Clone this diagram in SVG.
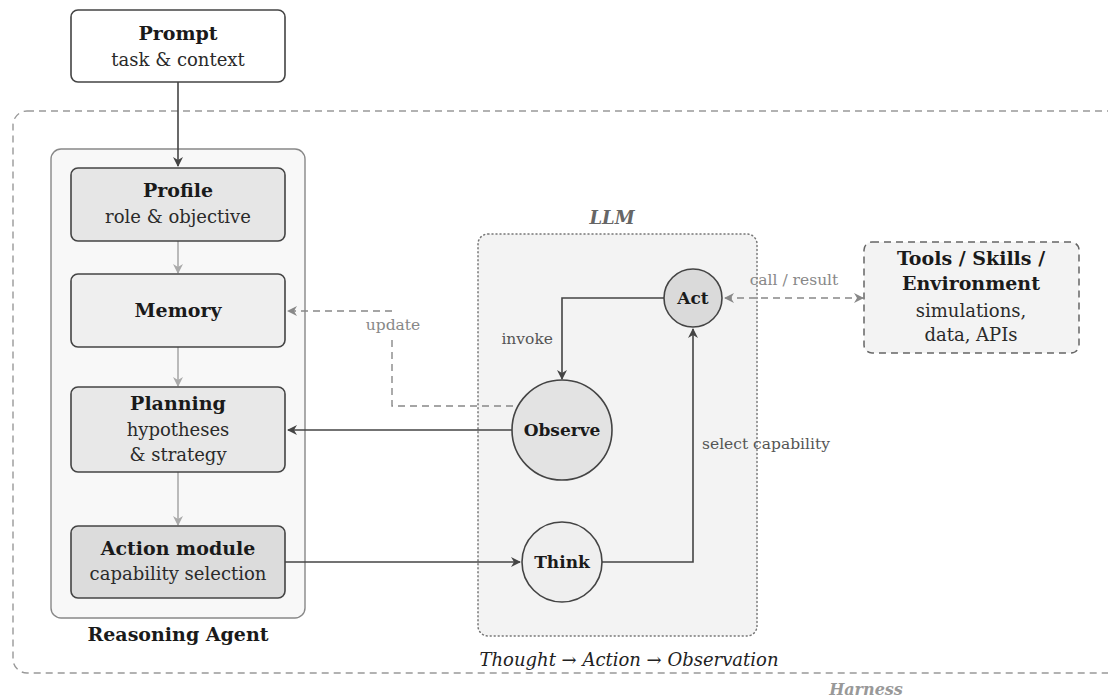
<svg xmlns="http://www.w3.org/2000/svg" width="1108" height="700" viewBox="0 0 1108 700">
  <style>
    text { font-family: "DejaVu Serif", "Liberation Serif", serif; fill: #1a1a1a; }
    .t { font-size: 19px; font-weight: bold; text-anchor: middle; }
    .s { font-size: 18px; text-anchor: middle; fill: #2a2a2a; }
    .c { font-size: 17px; font-weight: bold; text-anchor: middle; }
    .lbl { font-size: 15.5px; fill: #555; }
    .glbl { font-size: 15.5px; fill: #888; }
    .box { stroke: #444; stroke-width: 1.6; }
    .dark { fill: none; stroke: #444; stroke-width: 1.6; }
    .gray { fill: none; stroke: #aaa; stroke-width: 1.6; }
    .gdash { fill: none; stroke: #888; stroke-width: 1.4; stroke-dasharray: 7 5; }
  </style>
  <defs>
    <marker id="ad" viewBox="0 0 10 10" refX="9" refY="5" markerWidth="10" markerHeight="10" markerUnits="userSpaceOnUse" orient="auto-start-reverse">
      <path d="M0,0 L10,5 L0,10 L3,5 Z" fill="#444"/>
    </marker>
    <marker id="ag" viewBox="0 0 10 10" refX="9" refY="5" markerWidth="10" markerHeight="10" markerUnits="userSpaceOnUse" orient="auto-start-reverse">
      <path d="M0,0 L10,5 L0,10 L3,5 Z" fill="#aaa"/>
    </marker>
    <marker id="am" viewBox="0 0 10 10" refX="9" refY="5" markerWidth="10" markerHeight="10" markerUnits="userSpaceOnUse" orient="auto-start-reverse">
      <path d="M0,0 L10,5 L0,10 L3,5 Z" fill="#888"/>
    </marker>
  </defs>

  <rect width="1108" height="700" fill="#ffffff"/>

  <!-- Harness frame -->
  <g id="harness">
    <rect x="13" y="111" width="1120" height="562" rx="14" fill="none" stroke="#999" stroke-width="1.4" stroke-dasharray="7 5"/>
    <text x="866" y="695" style="font-size:16px;font-weight:bold;font-style:italic;fill:#999;text-anchor:middle">Harness</text>
  </g>

  <!-- Reasoning agent container -->
  <g id="agent">
    <rect x="51" y="149" width="254" height="469" rx="10" fill="#f8f8f8" stroke="#888" stroke-width="1.4"/>
    <text class="t" x="178" y="641">Reasoning Agent</text>
  </g>

  <!-- LLM container -->
  <g id="llm">
    <rect x="478" y="234" width="279" height="402" rx="10" fill="#f3f3f3" stroke="#777" stroke-width="1.5" stroke-dasharray="1 3" stroke-linecap="round"/>
    <text x="612" y="224" style="font-size:18px;font-weight:bold;font-style:italic;fill:#666;text-anchor:middle">LLM</text>
    <text x="629" y="666" style="font-size:18px;font-style:italic;text-anchor:middle;fill:#222">Thought → Action → Observation</text>
  </g>

  <!-- Connectors -->
  <g id="connectors">
    <line class="dark" x1="178" y1="82" x2="178" y2="166" marker-end="url(#ad)"/>
    <line class="gray" x1="178" y1="241" x2="178" y2="273" marker-end="url(#ag)"/>
    <line class="gray" x1="178" y1="347" x2="178" y2="386" marker-end="url(#ag)"/>
    <line class="gray" x1="178" y1="472" x2="178" y2="525" marker-end="url(#ag)"/>
    <!-- update -->
    <polyline class="gdash" points="513,406 392,406 392,311 288,311" marker-end="url(#am)"/>
    <rect x="360" y="316" width="66" height="19" fill="#ffffff"/>
    <text class="glbl" x="393" y="330" text-anchor="middle">update</text>
    <!-- observe to planning -->
    <line class="dark" x1="512" y1="430" x2="288" y2="430" marker-end="url(#ad)"/>
    <!-- action module to think -->
    <line class="dark" x1="285" y1="562" x2="520" y2="562" marker-end="url(#ad)"/>
    <!-- think to act -->
    <polyline class="dark" points="602,562 693,562 693,329" marker-end="url(#ad)"/>
    <text class="lbl" x="702" y="449">select capability</text>
    <!-- act to observe -->
    <polyline class="dark" points="664,298 562,298 562,379" marker-end="url(#ad)"/>
    <text class="lbl" x="553" y="344" text-anchor="end">invoke</text>
    <!-- call / result -->
    <line class="gdash" x1="725" y1="298" x2="863" y2="298" marker-start="url(#am)" marker-end="url(#am)"/>
    <text class="glbl" x="794" y="285" text-anchor="middle">call / result</text>
  </g>

  <!-- Nodes -->
  <g id="prompt">
    <rect class="box" x="71" y="10" width="214" height="72" rx="7" fill="#ffffff"/>
    <text class="t" x="178" y="40">Prompt</text>
    <text class="s" x="178" y="66">task &amp; context</text>
  </g>
  <g id="profile">
    <rect class="box" x="71" y="168" width="214" height="73" rx="7" fill="#e6e6e6"/>
    <text class="t" x="178" y="197">Profile</text>
    <text class="s" x="178" y="223">role &amp; objective</text>
  </g>
  <g id="memory">
    <rect class="box" x="71" y="274" width="214" height="73" rx="7" fill="#efefef"/>
    <text class="t" x="178" y="317">Memory</text>
  </g>
  <g id="planning">
    <rect class="box" x="71" y="387" width="214" height="85" rx="7" fill="#e8e8e8"/>
    <text class="t" x="178" y="410">Planning</text>
    <text class="s" x="178" y="436">hypotheses</text>
    <text class="s" x="178" y="461">&amp; strategy</text>
  </g>
  <g id="action-module">
    <rect class="box" x="71" y="526" width="214" height="72" rx="7" fill="#dcdcdc"/>
    <text class="t" x="178" y="555">Action module</text>
    <text class="s" x="178" y="580">capability selection</text>
  </g>
  <g id="act">
    <circle class="box" cx="693" cy="298" r="29" fill="#dadada"/>
    <text class="c" x="693" y="304">Act</text>
  </g>
  <g id="observe">
    <circle class="box" cx="562" cy="430" r="50" fill="#e3e3e3"/>
    <text class="c" x="562" y="436">Observe</text>
  </g>
  <g id="think">
    <circle class="box" cx="562" cy="562" r="40" fill="#efefef"/>
    <text class="c" x="562" y="568">Think</text>
  </g>
  <g id="tools">
    <rect x="864" y="242" width="215" height="111" rx="8" fill="#f3f3f3" stroke="#666" stroke-width="1.5" stroke-dasharray="7 5"/>
    <text class="t" x="971" y="265">Tools / Skills /</text>
    <text class="t" x="971" y="290">Environment</text>
    <text class="s" x="971" y="317">simulations,</text>
    <text class="s" x="971" y="341">data, APIs</text>
  </g>
</svg>
